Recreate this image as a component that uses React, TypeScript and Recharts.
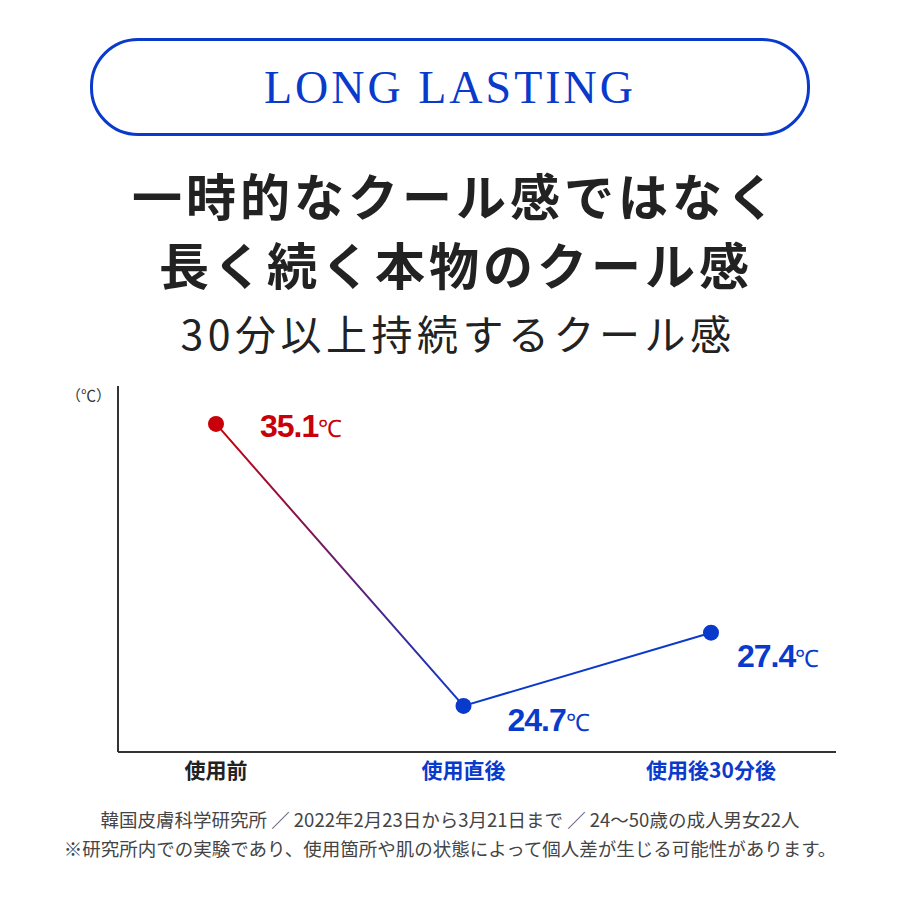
import React from 'react';
import { LineChart, Line, XAxis, YAxis, LabelList } from 'recharts';

const stages = ['使用前', '使用直後', '使用後30分後'];
const temps = [35.1, 24.7, 27.4];
const tickColors = ['#222222', '#0a3acc', '#0a3acc'];
const pointColors = ['#c8000a', '#0a3acc', '#0a3acc'];

const RED = '#c8000a';
const BLUE = '#0a3acc';

const data = stages.map((s, i) => ({ stage: s, temp: temps[i] }));

// label offsets from each point (x, baseline)
const labelOffsets = [
  [44, 13],
  [44, 25],
  [26, 34],
];

const jp = '"Noto Sans CJK JP", "Noto Sans", sans-serif';

function Dot(props: any) {
  const { cx, cy, index } = props;
  return <circle cx={cx} cy={cy} r={8} fill={pointColors[index]} />;
}

function Tick(props: any) {
  const { x, y, payload, index } = props;
  return (
    <text
      x={x}
      y={y + 26}
      textAnchor="middle"
      fontFamily={jp}
      fontWeight={700}
      fontSize={21}
      fill={tickColors[index]}
    >
      {payload.value}
    </text>
  );
}

function ValueLabel(props: any) {
  const { x, y, value, index } = props;
  const [dx, dy] = labelOffsets[index];
  return (
    <text
      x={x + dx}
      y={y + dy}
      fontFamily='"Liberation Sans", Arial, sans-serif'
      fill={pointColors[index]}
    >
      <tspan fontSize={32} fontWeight={700} letterSpacing={-1}>
        {value}
      </tspan>
      <tspan fontSize={24}>℃</tspan>
    </text>
  );
}

export default function App() {
  return (
    <div
      style={{
        position: 'absolute',
        left: 0,
        top: 0,
        width: 900,
        height: 900,
        background: '#fff',
        overflow: 'hidden',
      }}
    >
      <div
        style={{
          position: 'absolute',
          left: 90,
          top: 38,
          width: 714,
          height: 92,
          border: `3px solid ${BLUE}`,
          borderRadius: 48,
          display: 'flex',
          alignItems: 'center',
          justifyContent: 'center',
          color: BLUE,
          fontFamily: '"Liberation Serif", serif',
          fontSize: 46,
          letterSpacing: 3,
        }}
      >
        LONG LASTING
      </div>

      <div
        style={{
          position: 'absolute',
          left: 6,
          top: 160,
          width: 900,
          textAlign: 'center',
          fontFamily: jp,
          fontWeight: 700,
          fontSize: 50,
          letterSpacing: 4,
          lineHeight: '69px',
          color: '#222',
        }}
      >
        <div>一時的なクール感ではなく</div>
        <div>長く続く本物のクール感</div>
      </div>

      <div
        style={{
          position: 'absolute',
          left: 8,
          top: 306,
          width: 900,
          textAlign: 'center',
          fontFamily: jp,
          fontSize: 41,
          letterSpacing: 4.5,
          lineHeight: '52px',
          color: '#222',
        }}
      >
        30分以上持続するクール感
      </div>

      <div
        style={{
          position: 'absolute',
          left: 66,
          top: 384,
          fontFamily: jp,
          fontSize: 15,
          color: '#333',
        }}
      >
        （℃）
      </div>

      <div style={{ position: 'absolute', left: 0, top: 380 }}>
        <LineChart
          width={900}
          height={420}
          data={data}
          margin={{ top: 6, right: 64, bottom: 8, left: 117 }}
        >
          <defs>
            <linearGradient id="lineGrad" x1="0" y1="0" x2="1" y2="0">
              <stop offset="0%" stopColor={RED} />
              <stop offset="50%" stopColor={BLUE} />
              <stop offset="100%" stopColor={BLUE} />
            </linearGradient>
          </defs>
          <XAxis
            dataKey="stage"
            height={40}
            padding={{ left: 98, right: 125 }}
            axisLine={{ stroke: '#333', strokeWidth: 2 }}
            tickLine={false}
            tickSize={0}
            tickMargin={0}
            tick={<Tick />}
            interval={0}
          />
          <YAxis
            width={1}
            domain={[23, 36.5]}
            axisLine={{ stroke: '#333', strokeWidth: 2 }}
            tick={false}
            tickLine={false}
          />
          <Line
            type="linear"
            dataKey="temp"
            stroke="url(#lineGrad)"
            strokeWidth={2}
            dot={<Dot />}
            activeDot={false}
            isAnimationActive={false}
          >
            <LabelList dataKey="temp" content={<ValueLabel />} />
          </Line>
        </LineChart>
      </div>

      <div
        style={{
          position: 'absolute',
          left: 0,
          top: 805,
          width: 900,
          textAlign: 'center',
          fontFamily: jp,
          fontSize: 18.5,
          lineHeight: '29px',
          color: '#444',
        }}
      >
        <div>韓国皮膚科学研究所 ／ 2022年2月23日から3月21日まで ／ 24〜50歳の成人男女22人</div>
        <div>※研究所内での実験であり、使用箇所や肌の状態によって個人差が生じる可能性があります。</div>
      </div>
    </div>
  );
}
